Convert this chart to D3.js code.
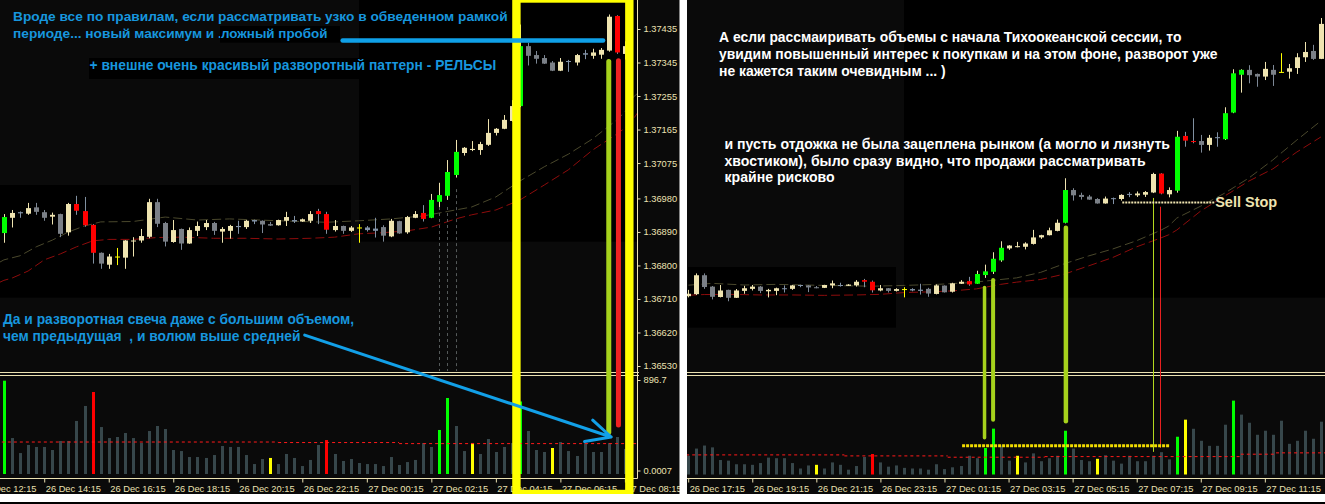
<!DOCTYPE html>
<html>
<head>
<meta charset="utf-8">
<title>EURUSD M15</title>
<script src="https://cdn.jsdelivr.net/npm/d3@7/dist/d3.min.js"></script>
<style>
  html, body { margin: 0; padding: 0; background: #0a0a0a; }
  svg { display: block; }
  .note { font-family: "Liberation Sans", Arial, sans-serif; font-weight: bold; white-space: pre; }
</style>
</head>
<body>
<svg id="chart" width="1325" height="504"></svg>
<script>
// 15-minute bars, index 0 = 26 Dec 13:00, index 96 = 27 Dec 13:00
const open = [
  1.36887,1.36928,1.36943,1.36939,1.36956,1.36943,1.36931,1.36938,1.36889,1.36965,
  1.36946,1.36909,1.36834,1.36802,1.36823,1.36821,1.36865,1.36867,1.36877,1.36970,
  1.36914,1.36863,1.36898,1.36859,1.36893,1.36903,1.36914,1.36891,1.36893,1.36906,
  1.36903,1.36922,1.36920,1.36911,1.36908,1.36920,1.36922,1.36918,1.36920,1.36946,
  1.36938,1.36895,1.36906,1.36893,1.36900,1.36902,1.36899,1.36903,1.36878,1.36919,
  1.36889,1.36928,1.36941,1.36928,1.36971,1.36987,1.37043,1.37102,1.37110,1.37110,
  1.37124,1.37156,1.37167,1.37188,1.37228,1.37389,1.37365,1.37357,1.37345,1.37323,
  1.37349,1.37345,1.37370,1.37363,1.37366,1.37377,1.37470,1.37368,1.37386,1.37655,
  1.37630,1.37630,1.37611,1.37649,1.37639,1.37770,1.37956,1.37980,1.37960,1.37947,
  1.37980,1.37968,1.37971,1.37989,1.38042,1.38073,1.38034];
const high = [
  1.36938,1.36949,1.36945,1.36968,1.36968,1.36949,1.36942,1.36939,1.36968,1.36987,
  1.36984,1.36911,1.36835,1.36831,1.36847,1.36868,1.36876,1.36898,1.36979,1.36979,
  1.36917,1.36922,1.36899,1.36902,1.36918,1.36922,1.36917,1.36903,1.36909,1.36920,
  1.36922,1.36923,1.36921,1.36917,1.36923,1.36944,1.36933,1.36926,1.36946,1.36952,
  1.36944,1.36922,1.36907,1.36906,1.36911,1.36906,1.36928,1.36908,1.36925,1.36920,
  1.36933,1.36946,1.36962,1.36992,1.37022,1.37083,1.37137,1.37118,1.37134,1.37132,
  1.37193,1.37169,1.37204,1.37244,1.37447,1.37398,1.37376,1.37365,1.37349,1.37357,
  1.37352,1.37368,1.37379,1.37382,1.37384,1.37474,1.37472,1.37402,1.37680,1.37675,
  1.37742,1.37660,1.37660,1.37673,1.37796,1.37983,1.37983,1.38003,1.37962,1.38019,
  1.38004,1.38062,1.38009,1.38062,1.38117,1.38103,1.38235];
const low = [
  1.36861,1.36902,1.36928,1.36936,1.36936,1.36920,1.36910,1.36876,1.36880,1.36936,
  1.36904,1.36805,1.36791,1.36791,1.36801,1.36791,1.36824,1.36861,1.36873,1.36903,
  1.36851,1.36861,1.36842,1.36858,1.36879,1.36895,1.36882,1.36861,1.36872,1.36885,
  1.36898,1.36911,1.36887,1.36906,1.36907,1.36906,1.36914,1.36917,1.36914,1.36911,
  1.36885,1.36891,1.36885,1.36890,1.36861,1.36891,1.36875,1.36864,1.36876,1.36885,
  1.36885,1.36927,1.36918,1.36927,1.36957,1.36976,1.37036,1.37095,1.37107,1.37097,
  1.37121,1.37149,1.37166,1.37186,1.37225,1.37337,1.37342,1.37341,1.37322,1.37322,
  1.37320,1.37337,1.37354,1.37355,1.37355,1.37374,1.37368,1.37353,1.37376,1.37602,
  1.37619,1.37573,1.37583,1.37602,1.37635,1.37767,1.37868,1.37914,1.37897,1.37930,
  1.37901,1.37965,1.37937,1.37960,1.38019,1.38029,1.38033];
const close = [
  1.36930,1.36941,1.36940,1.36954,1.36944,1.36928,1.36936,1.36885,1.36965,1.36947,
  1.36908,1.36834,1.36805,1.36824,1.36824,1.36867,1.36867,1.36879,1.36970,1.36912,
  1.36864,1.36895,1.36859,1.36895,1.36906,1.36914,1.36893,1.36898,1.36906,1.36903,
  1.36920,1.36918,1.36910,1.36907,1.36922,1.36930,1.36918,1.36924,1.36938,1.36938,
  1.36896,1.36906,1.36893,1.36902,1.36902,1.36895,1.36893,1.36880,1.36920,1.36886,
  1.36930,1.36938,1.36925,1.36976,1.36989,1.37051,1.37105,1.37116,1.37113,1.37126,
  1.37156,1.37167,1.37191,1.37228,1.37389,1.37363,1.37355,1.37342,1.37323,1.37347,
  1.37347,1.37365,1.37366,1.37372,1.37379,1.37468,1.37372,1.37389,1.37651,1.37632,
  1.37625,1.37611,1.37646,1.37644,1.37767,1.37963,1.37980,1.37954,1.37947,1.37985,
  1.37956,1.37970,1.37988,1.38042,1.38068,1.38034,1.38206];
// candle colour: c cream, b grey, G green, R red, Y yellow, s steel cross
const kind = ("GcscbbcbcR" + "RRbcYccccb" + "bcbcccbccs" + "csbbccsccR" + "RcbcYssbcb" +
              "ccRGGGGccc" + "ccccGbbbbc" + "scscccRcGR" + "RbcsGGGbbc" + "bYcccbc").split("");

const volume = [
  890,343,200,277,258,258,229,315,315,506,
  649,782,448,343,353,391,343,296,410,458,
  429,229,219,162,162,153,181,267,258,258,
  181,95,143,153,95,191,153,76,134,277,
  324,191,124,143,105,95,95,76,162,86,
  114,134,296,258,420,725,458,219,296,191,
  334,210,258,296,692,410,229,210,248,305,
  219,172,296,210,210,296,353,239,597,867,
  723,533,453,453,787,1168,947,818,628,692,
  628,850,485,533,692,565,835];
const volKind = ("Gvvvvvvvvv" + "vRvvvvvvvv" + "vvvvvvvvvv" + "vvvYvvvvvv" + "Rvvvvvvvvv" +
                 "vvvvGGvvYv" + "vvvvGvvvYv" + "vvvvvvvvGY" + "vvvvvGvvvv" + "vvvvvvv").split("");
// average volume, [from bar, to bar, value]
const volAvgLeft = [[-1, 34, 305], [34, 49, 300], [49, 79, 290]];
const volAvgRight = [[16, 36.5, 310], [36.5, 49.4, 294], [49.4, 61.5, 273], [61.5, 86, 283], [86, 90.4, 321], [90.4, 97, 342]];

// moving averages, [bar, price]
const maFast = [[-0.5,1.36809],[0,1.36815],[2,1.36826],[4,1.36850],[6,1.36868],[8,1.36890],[10,1.36906],[12,1.36917],
  [16,1.36918],[20,1.36930],[24,1.36922],[28,1.36925],[34,1.36920],[40,1.36916],[44,1.36920],[48,1.36925],
  [52,1.36933],[55,1.36945],[58,1.36957],[61,1.36984],[64,1.37027],[67,1.37065],[70,1.37099],[73,1.37140],
  [76,1.37191],[77,1.37212],[78,1.37251],[81,1.37310],[84,1.37374],[87,1.37448],[90,1.37537],[93,1.37635],[96,1.37729]];
const maSlow = [[-0.5,1.36755],[0,1.36760],[1,1.36766],[3,1.36785],[5,1.36815],[7,1.36831],[9,1.36850],[11,1.36866],
  [13,1.36870],[16,1.36870],[19,1.36875],[22,1.36876],[26,1.36873],[30,1.36873],[34,1.36871],[38,1.36873],
  [41,1.36876],[44,1.36885],[47,1.36888],[50,1.36893],[53,1.36903],[56,1.36925],[58,1.36936],[61,1.36949],
  [64,1.36976],[67,1.37016],[70,1.37057],[73,1.37110],[76,1.37153],[77,1.37169],[78,1.37192],[81,1.37286],
  [84,1.37360],[87,1.37433],[90,1.37493],[93,1.37576],[96,1.37650]];

const priceTicks = [1.37435, 1.37345, 1.37255, 1.37165, 1.37075, 1.36980, 1.36890, 1.36800, 1.36710, 1.36620, 1.36530];
const leftTicks = [-3, 5, 13, 21, 29, 37, 45, 53, 61, 69, 77];
const leftTickLabels = ["26 Dec 12:15", "26 Dec 14:15", "26 Dec 16:15", "26 Dec 18:15", "26 Dec 20:15", "26 Dec 22:15",
                        "27 Dec 00:15", "27 Dec 02:15", "27 Dec 04:15", "27 Dec 06:15", "27 Dec 08:15"];
const rightTicks = [17, 25, 33, 41, 49, 57, 65, 73, 81, 89];
const rightTickLabels = ["26 Dec 17:15", "26 Dec 19:15", "26 Dec 21:15", "26 Dec 23:15", "27 Dec 01:15",
                         "27 Dec 03:15", "27 Dec 05:15", "27 Dec 07:15", "27 Dec 09:15", "27 Dec 11:15"];

// hand-drawn marks: volume spikes pulled up to the candles
const spikesLeft = [{i: 75, top: 1.37348, vol: 398, color: "#a6d21c", w: 5}, {i: 76.2, top: 1.37350, vol: 467, color: "#ee2222", w: 5}];
const spikesRight = [{i: 54, top: 1.36910, vol: 580, color: "#a6d21c", w: 3.5}, {i: 55.07, top: 1.36946, vol: 866, color: "#a6d21c", w: 4},
                     {i: 64.16, top: 1.37204, vol: 840, color: "#a6d21c", w: 4.5}];
const thinRight = [{i: 75.08, top: 1.37350, vol: 358, color: "#b4d81e"}, {i: 75.95, top: 1.37307, vol: 421, color: "#e82020"}];
const drops = [{i: 54, top: 1.36957}, {i: 55, top: 1.36957}, {i: 56, top: 1.37005}];
const sellStop = {i0: 71.2, i1: 82.8, price: 1.37328};
const volLevel = {i0: 51.2, i1: 77.1, vol: 453};
const breakLine = {i0: 42, i1: 74.3, price: 1.37404};
const arrow = {i0: 37.3, p0: 1.36613, i1: 75.3, v1: 353};
const frame = {i0: 63.55, i1: 77.55};

const cream = "#ece2b2";
const axisFont = "Liberation Sans, Arial, sans-serif";
const bodyColor = {c: "#efe4b0", b: "#7b8087", G: "#00ff00", R: "#ff0000", Y: "#ffff00", s: "#8292a6"};
const wickColor = {c: "#efe4b0", b: "#7d8896", G: "#efe4b0", R: "#8090a0", Y: "#ffff00", s: "#8292a6"};
const volColor = {v: "#37474b", G: "#00ff00", R: "#ff0000", Y: "#ffff00"};

const xL = d3.scaleLinear().domain([0, 77]).range([3.9, 624.9]);
const xR = d3.scaleLinear().domain([17, 96]).range([688.2, 1320.9]);
const yL = d3.scaleLinear().domain([1.36530, 1.37435]).range([366, 29]);
const yR = d3.scaleLinear().domain([1.36800, 1.37400]).range([309.8, 187.8]);
const vL = d3.scaleLinear().domain([0, 896.7]).range([474, 380]);
const vR = d3.scaleLinear().domain([0, 1494]).range([474.5, 380]);

const svg = d3.select("#chart");
const defs = svg.append("defs");
[["lp", 0, 0, 637.5, 371], ["lv", 0, 376, 637.5, 102.5], ["rp", 687, 0, 638, 371], ["rv", 687, 376, 638, 102.5]]
  .forEach(([id, x, y, w, h]) => defs.append("clipPath").attr("id", id)
    .append("rect").attr("x", x).attr("y", y).attr("width", w).attr("height", h));

svg.append("rect").attr("width", 1325).attr("height", 504).attr("fill", "#0a0a0a");
// darker areas of the screenshots
[[0, 185, 351, 112.7], [359, 0, 278.5, 241.7], [904, 0, 421, 297.7], [688, 267, 208, 60.7]]
  .forEach(([x, y, w, h]) => svg.append("rect").attr("x", x).attr("y", y).attr("width", w).attr("height", h).attr("fill", "#000"));

function drawPanel(p) {
  const gp = svg.append("g").attr("clip-path", `url(#${p.cp})`);
  const line = d3.line().x(d => p.x(d[0])).y(d => p.y(d[1]));
  gp.append("path").datum(maFast).attr("d", line).attr("fill", "none")
    .attr("stroke", "#4a482c").attr("stroke-width", 1).attr("stroke-dasharray", "9,4");
  gp.append("path").datum(maSlow).attr("d", line).attr("fill", "none")
    .attr("stroke", "#8e0c0c").attr("stroke-width", 1).attr("stroke-dasharray", "9,4");

  const ids = d3.range(p.from, p.to + 1);
  const c = gp.selectAll("g.candle").data(ids).join("g").attr("class", "candle");
  c.append("line")
    .attr("x1", i => Math.round(p.x(i)) + 0.5).attr("x2", i => Math.round(p.x(i)) + 0.5)
    .attr("y1", i => p.y(high[i])).attr("y2", i => p.y(low[i]))
    .attr("stroke", i => wickColor[kind[i]]);
  c.append("rect")
    .attr("x", i => Math.round(p.x(i)) - 2).attr("width", 5)
    .attr("y", i => Math.min(p.y(open[i]), p.y(close[i])))
    .attr("height", i => Math.max(1, Math.abs(p.y(open[i]) - p.y(close[i]))))
    .attr("fill", i => bodyColor[kind[i]]);

  const gv = svg.append("g").attr("clip-path", `url(#${p.cv})`);
  gv.selectAll("rect").data(ids).join("rect")
    .attr("x", i => Math.round(p.x(i)) - 1).attr("width", 3)
    .attr("y", i => p.v(volume[i])).attr("height", i => p.v(0) - p.v(volume[i]))
    .attr("fill", i => volColor[volKind[i]]);
  gv.selectAll("line").data(p.avg).join("line")
    .attr("x1", d => p.x(d[0])).attr("x2", d => p.x(d[1]))
    .attr("y1", d => p.v(d[2])).attr("y2", d => p.v(d[2]))
    .attr("stroke", "#ff1a1a").attr("stroke-dasharray", "3,3");

  // panel separator and time axis
  [372, 375].forEach(y => svg.append("line").attr("x1", p.x0).attr("x2", p.x1 + 1.5)
    .attr("y1", y + 0.5).attr("y2", y + 0.5).attr("stroke", cream));
  const ax = svg.append("g").attr("transform", "translate(0,478.5)")
    .call(d3.axisBottom(p.x).tickValues(p.ticks).tickFormat((d, k) => p.labels[k]).tickSize(4).tickSizeOuter(0));
  ax.select(".domain").remove();
  ax.append("line").attr("x1", p.x0).attr("x2", p.x1).attr("stroke", cream);
  ax.selectAll(".tick line").attr("stroke", cream);
  ax.selectAll(".tick text").attr("text-anchor", "start").attr("x", 1).attr("y", 13).attr("dy", null)
    .attr("fill", cream).attr("font-family", axisFont).attr("font-size", 9.3);
  return {gp, gv};
}

const left = drawPanel({x: xL, y: yL, v: vL, from: 0, to: 77, cp: "lp", cv: "lv", x0: 0, x1: 637.5,
  ticks: leftTicks, labels: leftTickLabels, avg: volAvgLeft});
left.gp.selectAll("line.drop").data(drops).join("line").attr("class", "drop")
  .attr("x1", d => Math.round(xL(d.i)) + 0.5).attr("x2", d => Math.round(xL(d.i)) + 0.5)
  .attr("y1", d => yL(d.top)).attr("y2", 371)
  .attr("stroke", "#555a5a").attr("stroke-dasharray", "3,3");

drawPanel({x: xR, y: yR, v: vR, from: 17, to: 96, cp: "rp", cv: "rv", x0: 687, x1: 1325,
  ticks: rightTicks, labels: rightTickLabels, avg: volAvgRight});

// left price axis
svg.append("line").attr("x1", 637.5).attr("x2", 637.5).attr("y1", 0).attr("y2", 478.5).attr("stroke", cream);
const pa = svg.append("g").attr("transform", "translate(637.5,0)")
  .call(d3.axisRight(yL).tickValues(priceTicks).tickFormat(d3.format(".5f")).tickSize(3));
const va = svg.append("g").attr("transform", "translate(637.5,0)")
  .call(d3.axisRight(vL).tickValues([896.7, 0]).tickFormat(d => d ? "896.7" : "0.0007").tickSize(3));
[pa, va].forEach(a => {
  a.select(".domain").remove();
  a.selectAll(".tick line").attr("stroke", cream);
  a.selectAll(".tick text").attr("fill", cream).attr("font-family", axisFont).attr("font-size", 9.3);
});
va.selectAll(".tick").filter(d => d === 0).attr("transform", "translate(0,471)");

// volume spikes and marks
function spikes(list, x, y, v) {
  svg.append("g").selectAll("line").data(list).join("line")
    .attr("x1", d => x(d.i)).attr("x2", d => x(d.i))
    .attr("y1", d => y(d.top)).attr("y2", d => v(d.vol))
    .attr("stroke", d => d.color).attr("stroke-width", d => d.w).attr("stroke-linecap", "round");
}
spikes(spikesLeft, xL, yL, vL);
spikes(spikesRight, xR, yR, vR);
svg.append("g").selectAll("line").data(thinRight).join("line")
  .attr("x1", d => Math.round(xR(d.i)) + 0.5).attr("x2", d => Math.round(xR(d.i)) + 0.5)
  .attr("y1", d => yR(d.top)).attr("y2", d => vR(d.vol)).attr("stroke", d => d.color);

svg.append("line").attr("x1", xR(sellStop.i0)).attr("x2", xR(sellStop.i1))
  .attr("y1", yR(sellStop.price)).attr("y2", yR(sellStop.price))
  .attr("stroke", "#efe4b0").attr("stroke-width", 2).attr("stroke-dasharray", "2,1");
svg.append("text").attr("class", "note").attr("x", xR(sellStop.i1)).attr("y", yR(sellStop.price) + 5)
  .attr("fill", "#efe4b0").attr("font-size", 14.5).text("Sell Stop");
svg.append("line").attr("x1", xR(volLevel.i0)).attr("x2", xR(volLevel.i1))
  .attr("y1", vR(volLevel.vol)).attr("y2", vR(volLevel.vol))
  .attr("stroke", "#f2dc00").attr("stroke-width", 3).attr("stroke-dasharray", "3,1");

// notes; boxed ones sit on a black label rectangle
const blue = "#1796de";
const notes = [
  {t: "Вроде все по правилам, если рассматривать узко в обведенном рамкой", x: 13, y: 20.7, s: 13.7, c: blue},
  {t: "периоде... новый максимум и .", x: 13, y: 37.5, s: 13.7, c: blue},
  {t: "ложный пробой", x: 221, y: 38, s: 13.4, c: blue, box: [220, 26, 120, 16.7]},
  {t: "+ внешне очень красивый разворотный паттерн - РЕЛЬСЫ", x: 89.5, y: 70, s: 13.8, c: blue, box: [89, 58, 270, 21]},
  {t: "Да и разворотная свеча даже с большим объемом,", x: 3, y: 324, s: 13.8, c: blue},
  {t: "чем предыдущая  , и волюм выше средней", x: 3, y: 341, s: 13.8, c: blue},
  {t: "А если рассмаиривать объемы с начала Тихоокеанской сессии, то", x: 719, y: 41.7, s: 13.9, c: "#fff"},
  {t: "увидим повышенный интерес к покупкам и на этом фоне, разворот уже", x: 719, y: 59, s: 13.9, c: "#fff"},
  {t: "не кажется таким очевидным ... )", x: 719, y: 76.3, s: 13.9, c: "#fff"},
  {t: "и пусть отдожка не была зацеплена рынком (а могло и лизнуть", x: 724.5, y: 149, s: 14.1, c: "#fff"},
  {t: "хвостиком), было сразу видно, что продажи рассматривать", x: 724.5, y: 165.7, s: 14.1, c: "#fff"},
  {t: "крайне рисково", x: 724.5, y: 182.3, s: 14.1, c: "#fff"}];
const ng = svg.append("g");
notes.forEach(d => {
  if (d.box) ng.append("rect").attr("x", d.box[0]).attr("y", d.box[1]).attr("width", d.box[2]).attr("height", d.box[3]).attr("fill", "#000");
  ng.append("text").attr("class", "note").attr("x", d.x).attr("y", d.y)
    .attr("font-size", d.s).attr("fill", d.c).text(d.t);
});

// yellow frame around the period in question
const fx0 = xL(frame.i0), fx1 = xL(frame.i1);
svg.append("rect").attr("x", fx0).attr("y", -1.5).attr("width", fx1 - fx0).attr("height", 495.5)
  .attr("fill", "none").attr("stroke", "#ffff00").attr("stroke-width", 8.4);

// blue marks
svg.append("line").attr("x1", xL(breakLine.i0)).attr("x2", xL(breakLine.i1))
  .attr("y1", yL(breakLine.price)).attr("y2", yL(breakLine.price))
  .attr("stroke", "#0fa0e8").attr("stroke-width", 4.4).attr("stroke-linecap", "round");
const a0 = [xL(arrow.i0), yL(arrow.p0)], a1 = [xL(arrow.i1), vL(arrow.v1)];
const ang = Math.atan2(a1[1] - a0[1], a1[0] - a0[0]);
const wing = (da, len) => [a1[0] - len * Math.cos(ang + da), a1[1] - len * Math.sin(ang + da)];
const w1 = wing(24 * Math.PI / 180, 25), w2 = wing(-28 * Math.PI / 180, 27);
svg.append("path").attr("d", `M${a0}L${a1}M${w1}L${a1}L${w2}`)
  .attr("fill", "none").attr("stroke", "#12a0e8").attr("stroke-width", 3)
  .attr("stroke-linecap", "round").attr("stroke-linejoin", "round");

// screenshot borders
svg.append("rect").attr("x", 679.5).attr("y", 0).attr("width", 7.5).attr("height", 504).attr("fill", "#fff");
svg.append("rect").attr("x", 0).attr("y", 494).attr("width", 1325).attr("height", 8).attr("fill", "#fff");
svg.append("rect").attr("x", 0).attr("y", 502).attr("width", 1325).attr("height", 2).attr("fill", "#000");
</script>
</body>
</html>
